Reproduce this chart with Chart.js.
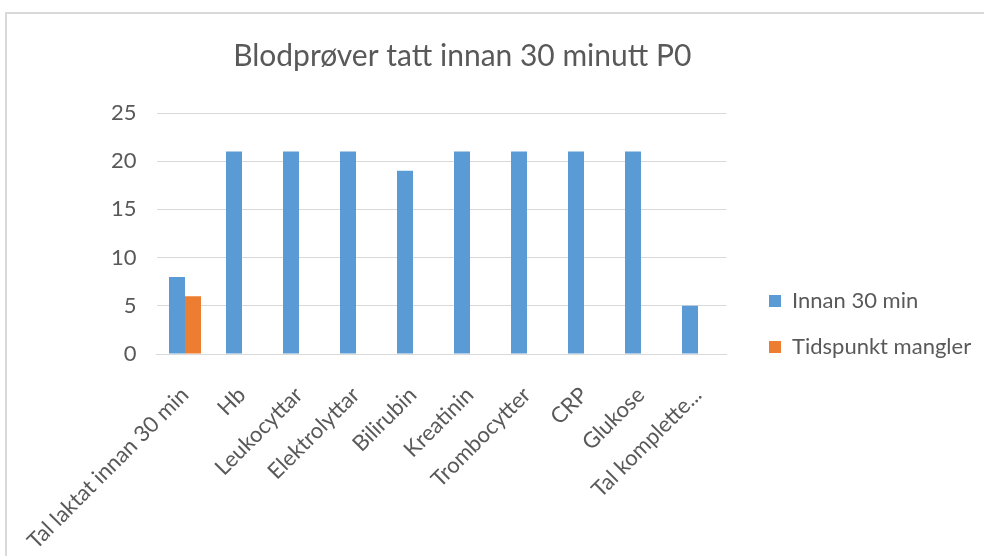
<!DOCTYPE html>
<html>
<head>
<meta charset="utf-8">
<script src="https://cdn.jsdelivr.net/npm/chart.js@4.4.1/dist/chart.umd.min.js"></script>
<style>
  body { margin: 0; background: #fff; }
  #frame { position: absolute; left: 5px; top: 12px; width: 990px; height: 560px;
           border-left: 2px solid #d9d9d9; border-top: 2px solid #d9d9d9; }
  #pngChart { position: absolute; left: 0; top: 0; }
</style>
</head>
<body>
<div id="frame"></div>
<canvas id="pngChart" width="984" height="556"></canvas>
<script>
const categories = ["Tal laktat innan 30 min", "Hb", "Leukocyttar", "Elektrolyttar", "Bilirubin",
    "Kreatinin", "Trombocytter", "CRP", "Glukose", "Tal komplette..."];
const innan30 = [8, 21, 21, 21, 19, 21, 21, 21, 21, 5];
const manglar = [6, null, null, null, null, null, null, null, null, null];
const yTicks = [0, 5, 10, 15, 20, 25];

const grey = "#595959";
Chart.defaults.font.family = "Lato";
Chart.defaults.color = grey;

// Excel puts the legend lower and further right, and the title a bit left
const nudge = {
    id: "nudge",
    beforeLayout(chart) {
        const lg = chart.legend;
        if (lg && !lg._patched) {
            const origFit = lg.fit;
            lg.fit = function () { origFit.call(this); this.width = 257.5; };
            lg._patched = true;
        }
    },
    afterLayout(chart) {
        const lg = chart.legend;
        lg.left += 18.5; lg.right += 18.5;
        lg.top += 46; lg.bottom += 46;
        const t = chart.titleBlock;
        t.left -= 43; t.right -= 43;
    }
};

const ctx = document.getElementById("pngChart");
new Chart(ctx, {
    type: "bar",
    data: {
        labels: categories,
        datasets: [{
            label: "Innan 30 min",
            data: innan30,
            backgroundColor: "#5b9bd5"
        }, {
            label: "Tidspunkt mangler",
            data: manglar,
            backgroundColor: "#ed7d31"
        }]
    },
    options: {
        responsive: false,
        animation: false,
        devicePixelRatio: 1,
        datasets: {bar: {categoryPercentage: 0.5614, barPercentage: 1}},
        layout: {padding: {left: 26.5, right: 0, top: 0, bottom: 0}},
        plugins: {
            title: {
                display: true,
                text: "Blodprøver tatt innan 30 minutt P0",
                color: grey,
                font: {size: 30, weight: "normal"},
                padding: {top: 38, bottom: 39}
            },
            legend: {
                position: "right",
                labels: {
                    boxWidth: 12,
                    boxHeight: 12,
                    padding: 24,
                    color: grey,
                    font: {size: 22}
                }
            },
            tooltip: {enabled: false}
        },
        scales: {
            x: {
                grid: {display: false},
                border: {color: "#d9d9d9"},
                ticks: {
                    autoSkip: false,
                    minRotation: 45,
                    maxRotation: 45,
                    padding: 20,
                    font: {size: 22}
                },
                afterFit(scale) { scale.height = 202; }
            },
            y: {
                min: 0,
                max: 25,
                border: {display: false},
                grid: {color: "#d9d9d9", drawTicks: false},
                afterBuildTicks(scale) { scale.ticks = yTicks.map(v => ({value: v})); },
                ticks: {padding: 20, font: {size: 22}},
                afterFit(scale) { scale.width = 130; }
            }
        }
    },
    plugins: [nudge]
});
</script>
</body>
</html>
